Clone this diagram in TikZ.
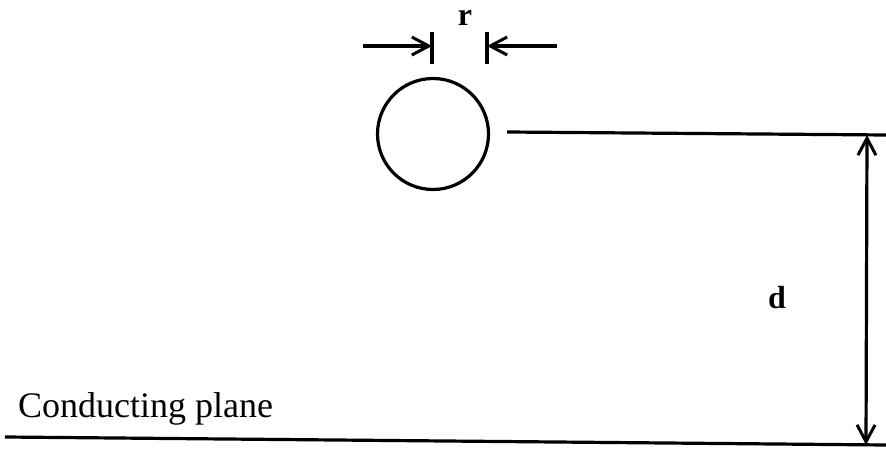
\documentclass[tikz,border=0pt]{standalone}
\usepackage{fontspec}
\setmainfont{Liberation Serif}
\usetikzlibrary{arrows.meta}
\begin{document}
\begin{tikzpicture}[x=1pt,y=-1pt,
  ln/.style={line width=3.2pt},
  barb/.tip={Straight Barb[length=17pt,width=18pt,line width=3pt]},
  dimarrow/.style={ln,-barb},
  dimboth/.style={ln,barb-barb},
  lbl/.style={font=\fontsize{32}{36}\selectfont\bfseries,inner sep=0pt}]
\useasboundingbox (0,0) rectangle (886,449);
% wire
\node[ln,draw,circle,minimum size=111pt,inner sep=0pt] (wire) at (433,134) {};
% r dimension
\coordinate (tl1) at (432,32);
\coordinate (tl2) at (432,64);
\coordinate (tr1) at (487,32);
\coordinate (tr2) at (487,64);
\coordinate (tlm) at (432,46);
\coordinate (trm) at (487,46);
\coordinate (al) at (363,46);
\coordinate (ar) at (557,46);
\draw[ln] (tl1) -- (tl2);
\draw[ln] (tr1) -- (tr2);
\draw[dimarrow] (al) -- (tlm);
\draw[dimarrow] (ar) -- (trm);
\node[lbl,anchor=base] (r) at (465,26) {r};
% reference line from wire level
\coordinate (h1) at (507,132);
\coordinate (h2) at (886,135);
\draw[ln] (h1) -- (h2);
% ground plane
\coordinate (g1) at (5,437);
\coordinate (g2) at (886,445);
\draw[ln] (g1) -- (g2);
\node[font=\fontsize{36}{42}\selectfont,anchor=base west,inner sep=0pt] (cp) at (18,417) {Conducting plane};
% d dimension
\coordinate (dt) at (867,135);
\coordinate (db) at (866,445);
\draw[dimboth] (dt) -- (db);
\node[lbl] (d) at (777,298) {d};
\end{tikzpicture}
\end{document}
